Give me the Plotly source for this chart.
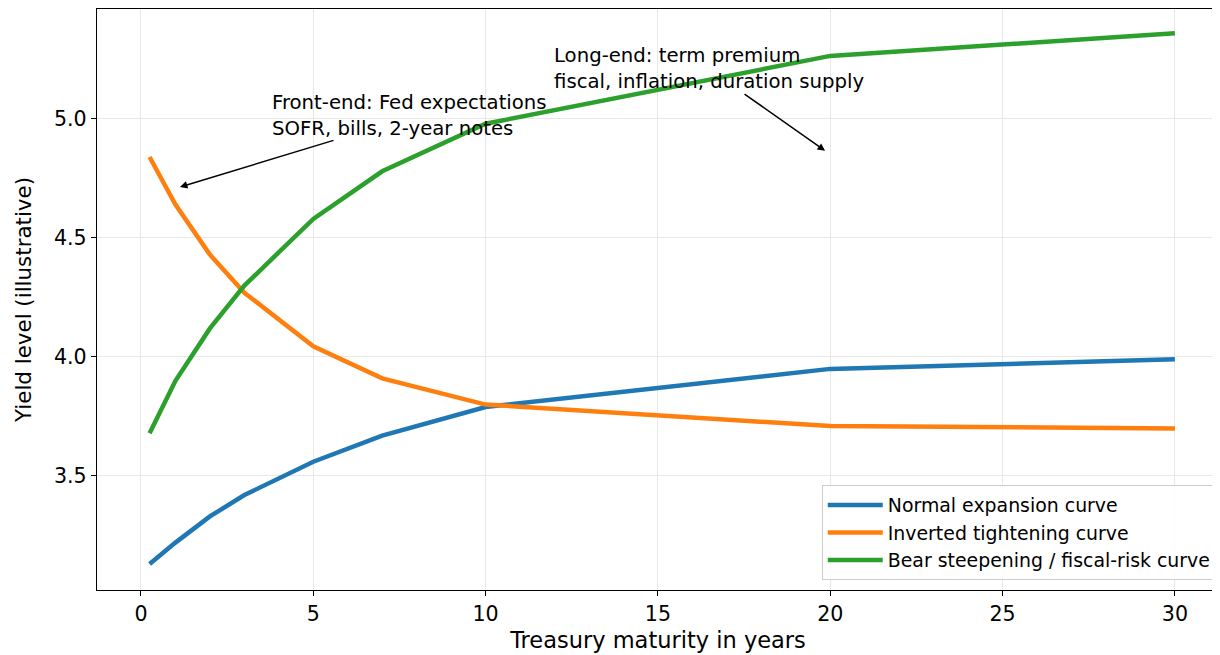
import plotly.graph_objects as go

maturities = [0.25, 1, 2, 3, 5, 7, 10, 20, 30]
normal_curve = [3.13, 3.22, 3.33, 3.42, 3.56, 3.67, 3.79, 3.95, 3.99]
inverted_curve = [4.84, 4.64, 4.43, 4.27, 4.045, 3.91, 3.80, 3.71, 3.70]
bear_curve = [3.68, 3.90, 4.12, 4.30, 4.58, 4.78, 4.98, 5.265, 5.36]

series_names = ["Normal expansion curve", "Inverted tightening curve",
                "Bear steepening / fiscal-risk curve"]
colors = ["#1f77b4", "#ff7f0e", "#2ca02c"]

front_lines = ["Front-end: Fed expectations", "SOFR, bills, 2-year notes"]
long_lines = ["Long-end: term premium", "fiscal, inflation, duration supply"]

FONT = "DejaVu Sans"
TICK_FS = 20.6
XLAB_FS = 22.5
YLAB_FS = 21.4
ANN_FS = 19.7
LEG_FS = 18.9

fig = go.Figure()
for name, vals, c in zip(series_names, [normal_curve, inverted_curve, bear_curve], colors):
    fig.add_trace(go.Scatter(x=maturities, y=vals, mode="lines", name=name,
                             line=dict(color=c, width=4.5)))

# text annotations
fig.add_annotation(x=3.75, y=5.015, xref="x", yref="y", showarrow=False,
                   text="<br>".join(front_lines), xanchor="left", yanchor="middle",
                   align="left", font=dict(family=FONT, size=ANN_FS, color="black"))
fig.add_annotation(x=11.93, y=5.21, xref="x", yref="y", showarrow=False,
                   text="<br>".join(long_lines), xanchor="left", yanchor="middle",
                   align="left", font=dict(family=FONT, size=ANN_FS, color="black"))
# arrows
fig.add_annotation(x=1.13, y=4.714, ax=5.63, ay=4.912, xref="x", yref="y",
                   axref="x", ayref="y", text="", showarrow=True,
                   arrowhead=2, arrowsize=1, arrowwidth=1.5, arrowcolor="black")
fig.add_annotation(x=19.85, y=4.866, ax=17.47, ay=5.109, xref="x", yref="y",
                   axref="x", ayref="y", text="", showarrow=True,
                   arrowhead=2, arrowsize=1, arrowwidth=1.5, arrowcolor="black")

fig.update_layout(
    width=1212, height=647,
    margin=dict(l=89, r=1, t=1, b=65),
    paper_bgcolor="white", plot_bgcolor="white",
    font=dict(family=FONT, size=TICK_FS, color="black"),
    showlegend=True,
    legend=dict(x=0.998, y=0.017, xanchor="right", yanchor="bottom",
                bgcolor="rgba(255,255,255,0.85)", bordercolor="#cccccc",
                borderwidth=1, itemwidth=55, font=dict(family=FONT, size=LEG_FS)),
)
fig.update_xaxes(range=[-1.276, 31.28], tickvals=[0, 5, 10, 15, 20, 25, 30],
                 tickfont=dict(family=FONT, size=TICK_FS),
                 showgrid=True, gridcolor="#e8e8e8", gridwidth=1,
                 showline=True, linecolor="black", linewidth=1.3, mirror=True,
                 ticks="outside", ticklen=5, tickcolor="black", zeroline=False,
                 title=dict(text="Treasury maturity in years", standoff=7,
                            font=dict(family=FONT, size=XLAB_FS)))
fig.update_yaxes(range=[3.021, 5.462], tickvals=[3.5, 4.0, 4.5, 5.0],
                 ticktext=["3.5", "4.0", "4.5", "5.0"],
                 tickfont=dict(family=FONT, size=TICK_FS),
                 showgrid=True, gridcolor="#e8e8e8", gridwidth=1,
                 showline=True, linecolor="black", linewidth=1.3, mirror=False,
                 ticks="outside", ticklen=5, tickcolor="black", zeroline=False,
                 title=dict(text="Yield level (illustrative)", standoff=16,
                            font=dict(family=FONT, size=YLAB_FS)))

fig.write_html("out.html")
